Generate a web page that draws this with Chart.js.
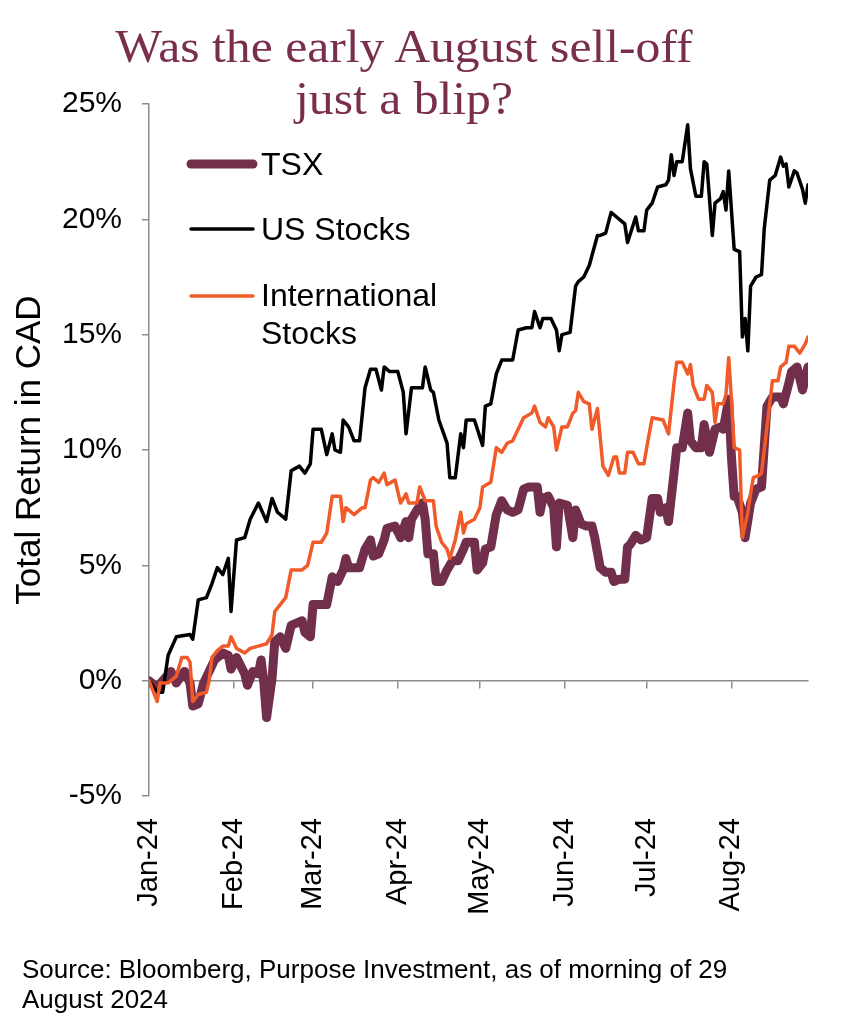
<!DOCTYPE html>
<html>
<head>
<meta charset="utf-8">
<script src="https://cdn.jsdelivr.net/npm/chart.js@4.4.1/dist/chart.umd.min.js"></script>
<style>
  body { margin: 0; background: #fff; }
  #wrap { position: relative; width: 843px; height: 1024px; overflow: hidden; }
  #box { position: absolute; left: 0; top: 0; width: 843px; height: 1024px; }
  #titolo {
    position: absolute; left: 0; top: 21px; width: 808px; text-align: center;
    font-family: "Liberation Serif", "DejaVu Serif", serif; font-size: 46px; line-height: 52px;
    color: #7a2e4e; transform: scaleX(1.08); transform-origin: 404px 0;
  }
  #fonte {
    position: absolute; left: 22px; top: 954px; width: 820px;
    font-family: "Liberation Sans", Arial, sans-serif; font-size: 26px; line-height: 30px; color: #000;
  }
</style>
</head>
<body>
<div id="wrap">
  <div id="box"><canvas id="grafico"></canvas></div>
  <div id="titolo">Was the early August sell-off<br>just a blip?</div>
  <div id="fonte">Source: Bloomberg, Purpose Investment, as of morning of 29<br>August 2024</div>
</div>
<script>
// giorni dal 1 gennaio 2024, etichette dei mesi
const monthStarts = [0, 31, 60, 91, 121, 152, 182, 213];
const monthLabels = ['Jan-24', 'Feb-24', 'Mar-24', 'Apr-24', 'May-24', 'Jun-24', 'Jul-24', 'Aug-24'];
const seriesNames = ['TSX', 'US Stocks', 'International Stocks'];

// rendimento totale in CAD (%)
const tsxDays = [0,3,5,8,10,13,15,16,18,20,22,24,27,29,30,32,35,36,38,40,41,42,43,45,46,48,50,52,56,57,59,60,63,65,67,69,71,72,73,77,79,81,82,84,86,87,90,92,94,95,96,98,100,101,102,104,105,107,109,111,113,115,116,119,120,122,123,125,127,129,131,133,135,137,139,142,143,144,146,148,149,150,153,155,156,158,160,162,163,165,167,169,170,172,174,175,176,178,180,182,184,186,187,189,190,192,193,195,197,198,200,202,203,205,207,209,210,212,213,214,215,217,218,220,222,224,226,228,231,232,234,235,237,239,241];
const tsxValues = [0,-0.3,0.0,0.4,-0.1,0.4,-0.1,-1.1,-1.0,-0.1,0.4,0.9,1.2,1.1,0.5,1.0,0.3,-0.2,0.4,0.3,0.9,-0.1,-1.6,0.1,1.7,1.9,1.4,2.4,2.6,2.1,1.9,3.3,3.3,3.3,4.5,4.3,4.8,5.3,4.9,4.9,5.7,6.1,5.4,5.5,6.1,6.6,6.7,6.2,6.9,6.2,7.0,7.4,7.7,7.0,5.5,5.5,4.3,4.3,4.8,5.2,5.2,5.7,6.0,6.0,4.8,5.1,5.7,5.8,7.2,7.8,7.4,7.3,7.4,8.3,8.4,8.4,7.3,7.9,8.0,7.5,5.8,7.7,7.6,6.2,7.4,6.8,6.7,6.7,6.2,4.9,4.7,4.7,4.3,4.4,4.4,5.8,5.9,6.3,6.1,6.2,7.9,7.9,7.3,7.5,6.9,9.0,10.1,10.1,11.6,10.4,10.1,10.1,11.1,9.9,10.9,11.0,10.9,12.2,9.7,8.0,8.0,7.3,6.2,7.7,8.3,8.4,11.9,12.3,12.3,12.0,12.9,13.4,13.6,12.6,13.6];

const usDays = [0,3,5,7,10,15,16,18,21,23,25,27,29,30,32,35,37,40,43,45,47,50,52,55,57,59,60,63,65,67,68,70,71,73,75,77,79,81,83,85,86,88,91,93,94,96,100,101,103,104,106,109,110,112,114,115,116,119,122,123,125,127,129,133,135,138,140,141,143,144,147,149,150,151,154,156,157,159,161,164,165,167,169,171,173,174,175,178,179,181,182,184,186,189,190,191,192,193,195,197,198,200,202,203,204,206,207,209,210,211,212,214,216,217,218,219,220,222,224,225,227,229,231,232,233,234,236,237,239,240,241];
const usValues = [0,-0.5,-0.5,1.1,1.9,2.0,1.8,3.5,3.6,4.2,4.9,4.6,5.3,3.0,6.1,6.2,7.0,7.7,6.9,7.9,7.3,7.0,9.1,9.3,9.0,9.4,10.9,10.9,9.8,10.7,10.0,9.9,11.3,11.0,10.4,10.4,12.7,13.5,13.5,12.6,13.6,13.4,13.4,12.5,10.7,12.7,12.7,13.6,12.6,12.5,11.3,10.3,8.8,8.8,10.7,10.1,11.3,11.3,10.2,11.9,12.0,13.3,13.9,13.9,15.2,15.3,15.3,16.0,15.3,15.7,15.7,15.2,14.3,15.0,15.1,17.1,17.3,17.5,18.0,19.3,19.3,19.4,20.3,20.1,19.9,19.8,19.0,20.1,19.5,19.5,20.4,20.7,21.4,21.5,21.7,22.8,21.9,22.5,22.5,24.1,22.2,21.0,21.0,22.5,22.4,19.3,20.7,20.9,21.2,20.4,22.1,18.7,18.6,14.9,15.7,14.3,17.1,17.5,17.6,19.6,21.7,21.9,22.7,22.3,22.4,21.4,22.1,22.0,21.3,20.7,21.5];

const intlDays = [0,3,4,7,10,12,14,15,16,18,21,22,23,25,27,29,30,32,35,37,40,43,45,46,48,50,52,56,58,60,63,65,67,70,71,72,75,78,79,81,82,84,86,87,90,92,94,95,98,99,101,104,105,107,109,110,112,114,115,116,119,121,122,125,127,129,131,133,135,137,140,141,143,145,146,148,149,151,153,155,156,157,159,161,162,164,166,167,168,170,171,172,174,175,177,179,181,182,184,188,190,192,193,195,197,198,199,201,203,204,206,207,208,210,211,212,213,214,216,217,219,220,221,223,224,226,228,230,231,233,234,236,238,240,241];
const intlValues = [0,-0.9,-0.1,-0.1,0.2,1.0,1.0,0.8,-0.9,-0.6,-0.5,0.0,1.0,1.3,1.5,1.5,1.9,1.4,1.2,1.4,1.5,1.6,2.0,3.0,3.3,3.6,4.8,4.8,5.0,6.0,6.0,6.4,8.0,8.0,6.9,7.5,7.2,7.5,7.5,8.7,8.8,8.6,9.0,8.5,8.7,7.7,8.1,7.7,7.7,8.4,7.8,7.8,6.7,6.0,5.7,5.3,6.1,7.3,6.4,6.8,7.0,7.5,8.4,8.6,10.1,9.9,10.3,10.4,10.9,11.4,11.6,11.9,11.2,11.0,11.4,11.0,10.0,11.0,11.0,11.6,11.7,12.5,12.1,12.0,10.9,11.8,9.3,9.1,8.9,9.7,9.7,9.0,9.0,9.9,9.9,9.4,9.4,10.1,11.4,11.3,10.7,12.9,13.8,13.8,13.3,13.7,12.8,12.2,12.2,12.8,12.5,11.2,12.0,12.0,12.4,14.0,12.2,10.1,10.0,6.2,7.3,8.1,8.8,8.9,9.0,11.0,13.0,13.0,13.6,13.8,14.5,14.5,14.2,14.6,14.9];

const punti = (giorni, valori) => giorni.map((g, i) => ({ x: g, y: valori[i] }));

const fontSans = '"Liberation Sans", Arial, sans-serif';
const grigio = '#8c8c8c';

// legenda dentro il grafico, in alto a sinistra
const legendaInterna = {
  id: 'legendaInterna',
  afterDatasetsDraw(chart) {
    const ctx = chart.ctx;
    const righe = [[175], [240], [306, 344]];
    const lineeY = [164, 229, 296];
    ctx.save();
    ctx.font = '32px ' + fontSans;
    ctx.fillStyle = '#000';
    ctx.textBaseline = 'alphabetic';
    chart.data.datasets.forEach((ds, i) => {
      ctx.strokeStyle = ds.borderColor;
      ctx.lineWidth = ds.borderWidth;
      ctx.lineCap = 'round';
      ctx.beginPath();
      ctx.moveTo(191, lineeY[i]);
      ctx.lineTo(253, lineeY[i]);
      ctx.stroke();
      // a capo se il testo e' troppo lungo
      const parole = ds.label.split(' ');
      const linee = [];
      let cur = '';
      parole.forEach(p => {
        const prova = cur ? cur + ' ' + p : p;
        if (cur && ctx.measureText(prova).width > 200) { linee.push(cur); cur = p; }
        else cur = prova;
      });
      linee.push(cur);
      linee.forEach((t, k) => ctx.fillText(t, 261, righe[i][k] !== undefined ? righe[i][k] : righe[i][0] + 38 * k));
    });
    ctx.restore();
  }
};

const ctx = document.getElementById('grafico').getContext('2d');

const chart = new Chart(ctx, {
  type: 'line',
  data: {
    datasets: [
      { label: seriesNames[0], data: punti(tsxDays, tsxValues), borderColor: '#722f4b', borderWidth: 9, order: 3 },
      { label: seriesNames[1], data: punti(usDays, usValues), borderColor: '#000000', borderWidth: 3.5, order: 2 },
      { label: seriesNames[2], data: punti(intlDays, intlValues), borderColor: '#f15a29', borderWidth: 3.5, order: 1 }
    ]
  },
  options: {
    responsive: true,
    maintainAspectRatio: false,
    animation: false,
    layout: { padding: { top: 104, right: 35, left: 0, bottom: 0 } },
    elements: {
      point: { radius: 0 },
      line: { tension: 0, borderJoinStyle: 'round', borderCapStyle: 'round' }
    },
    scales: {
      x: {
        type: 'linear',
        min: 0,
        max: 241,
        grid: { display: false, drawTicks: false },
        border: { display: false },
        afterBuildTicks: s => { s.ticks = monthStarts.map(v => ({ value: v })); },
        afterFit: s => { s.height = 228; },
        ticks: {
          autoSkip: false,
          minRotation: 90,
          maxRotation: 90,
          padding: 22,
          color: '#000',
          font: { family: fontSans, size: 29 },
          callback: v => monthLabels[monthStarts.indexOf(v)]
        }
      },
      x0: {
        type: 'linear',
        axis: 'x',
        position: { y: 0 },
        min: 0,
        max: 241,
        afterBuildTicks: s => { s.ticks = monthStarts.map(v => ({ value: v })); },
        grid: { drawOnChartArea: false, drawTicks: true, tickLength: 7, color: grigio, lineWidth: 1.5 },
        border: { display: true, color: grigio, width: 1.5 },
        ticks: { display: false }
      },
      y: {
        min: -5,
        max: 25,
        afterFit: s => { s.width = 149; },
        grid: { drawOnChartArea: false, drawTicks: true, tickLength: 7, color: grigio, lineWidth: 1.5 },
        border: { display: true, color: grigio, width: 1.5 },
        ticks: {
          stepSize: 5,
          padding: 20,
          color: '#000',
          font: { family: fontSans, size: 30 },
          callback: v => v + '%'
        },
        title: {
          display: true,
          text: 'Total Return in CAD',
          color: '#000',
          font: { family: fontSans, size: 35 },
          padding: { top: 9, bottom: 0 }
        }
      }
    },
    plugins: {
      legend: { display: false },
      tooltip: { enabled: false }
    }
  },
  plugins: [legendaInterna]
});
</script>
</body>
</html>
